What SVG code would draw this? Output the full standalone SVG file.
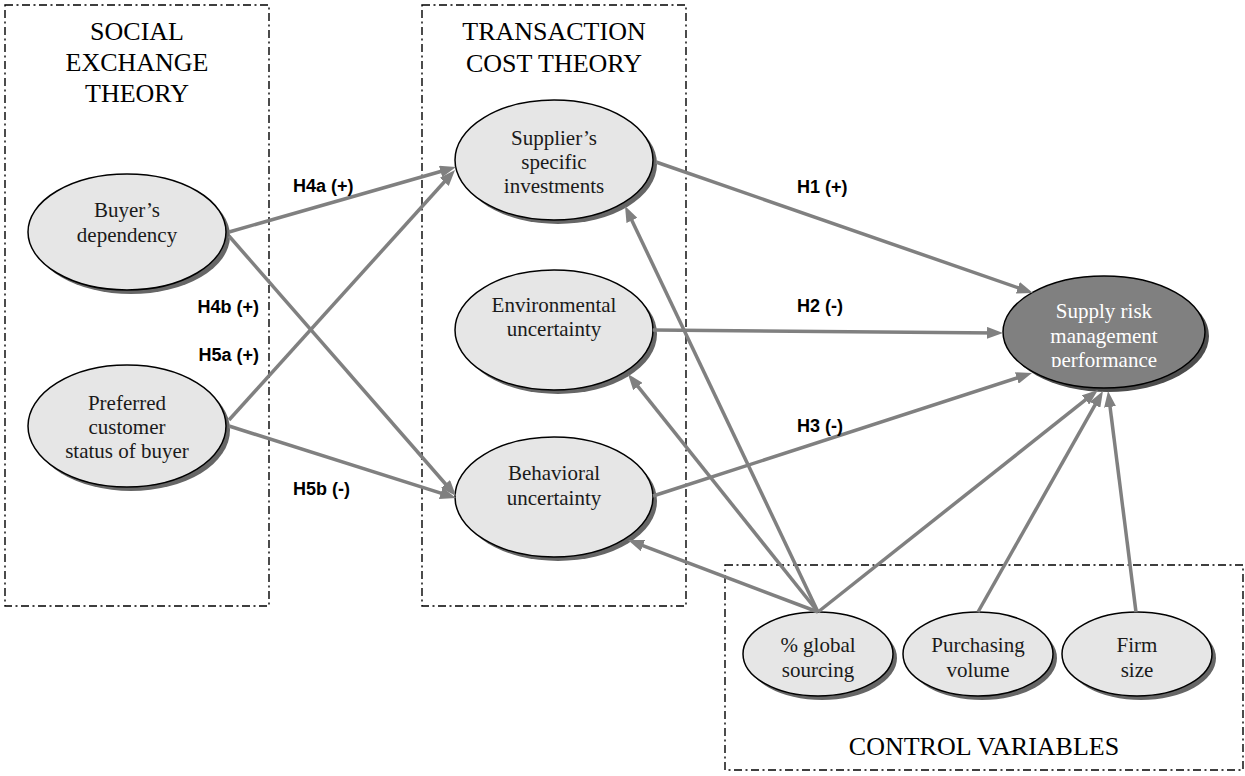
<svg xmlns="http://www.w3.org/2000/svg" width="1245" height="776" viewBox="0 0 1245 776">
<defs>
<style>
.box{fill:none;stroke:#000;stroke-width:1.4;stroke-dasharray:8 3.5 2 3.5}
.title{font-family:"Liberation Serif","Times New Roman",serif;font-size:26px;fill:#000;text-anchor:middle}
.nt{font-family:"Liberation Serif","Times New Roman",serif;font-size:21px;fill:#1a1a1a;text-anchor:middle}
.nw{font-family:"Liberation Serif","Times New Roman",serif;font-size:21px;fill:#fff;text-anchor:middle}
.lbl{font-family:"Liberation Sans",Arial,sans-serif;font-size:18px;font-weight:bold;fill:#000}
.el{fill:#e6e6e6;stroke:#000;stroke-width:1.5}
.sh{fill:#666}
.dk{fill:#808080;stroke:#000;stroke-width:1.5}
.dsh{fill:#4d4d4d}
.con line{stroke:#808080;stroke-width:3.5;fill:none;marker-end:url(#ah)}
</style>
<marker id="ah" viewBox="0 0 16 12" refX="10" refY="6" markerWidth="16" markerHeight="12" markerUnits="userSpaceOnUse" orient="auto">
<path d="M0,0 L16,6 L0,12 z" fill="#808080"/>
</marker>
<clipPath id="srmclip"><rect x="1000" y="290" width="210" height="77"/></clipPath>
</defs>
<rect width="1245" height="776" fill="#fff"/>

<g id="boxes">
<rect class="box" x="5" y="5" width="264" height="601"/>
<rect class="box" x="422" y="5" width="264" height="601"/>
<rect class="box" x="725" y="565" width="518" height="205"/>
</g>

<g id="titles">
<text class="title" x="137" y="40">SOCIAL</text>
<text class="title" x="137" y="71">EXCHANGE</text>
<text class="title" x="137" y="102">THEORY</text>
<text class="title" x="554" y="40">TRANSACTION</text>
<text class="title" x="554" y="72">COST THEORY</text>
<text class="title" x="984" y="755">CONTROL VARIABLES</text>
</g>

<g id="buyer">
<ellipse class="sh" cx="131" cy="236" rx="99" ry="58"/>
<ellipse class="el" cx="127" cy="232" rx="99" ry="58"/>
<text class="nt" x="127" y="217">Buyer’s</text>
<text class="nt" x="127" y="242">dependency</text>
</g>

<g id="preferred">
<ellipse class="sh" cx="131" cy="430" rx="99" ry="61"/>
<ellipse class="el" cx="127" cy="426" rx="99" ry="61"/>
<text class="nt" x="127" y="410">Preferred</text>
<text class="nt" x="127" y="434">customer</text>
<text class="nt" x="127" y="458">status of buyer</text>
</g>

<g id="supplier">
<ellipse class="sh" cx="558" cy="164" rx="99" ry="60"/>
<ellipse class="el" cx="554" cy="160" rx="99" ry="60"/>
<text class="nt" x="554" y="145">Supplier’s</text>
<text class="nt" x="554" y="169">specific</text>
<text class="nt" x="554" y="193">investments</text>
</g>

<g id="environmental">
<ellipse class="sh" cx="558" cy="334" rx="99" ry="60"/>
<ellipse class="el" cx="554" cy="330" rx="99" ry="60"/>
<text class="nt" x="554" y="312">Environmental</text>
<text class="nt" x="554" y="336">uncertainty</text>
</g>

<g id="behavioral">
<ellipse class="sh" cx="558" cy="501" rx="99" ry="60"/>
<ellipse class="el" cx="554" cy="497" rx="99" ry="60"/>
<text class="nt" x="554" y="480">Behavioral</text>
<text class="nt" x="554" y="505">uncertainty</text>
</g>

<g id="srm">
<ellipse class="dsh" cx="1108" cy="336" rx="101" ry="56"/>
<ellipse class="dk" cx="1104" cy="332" rx="101" ry="56"/>
<g clip-path="url(#srmclip)">
<text class="nw" x="1104" y="318">Supply risk</text>
<text class="nw" x="1104" y="343">management</text>
<text class="nw" x="1104" y="367">performance</text>
</g>
</g>

<g id="global">
<ellipse class="sh" cx="822" cy="658" rx="75" ry="42"/>
<ellipse class="el" cx="818" cy="654" rx="75" ry="42"/>
<text class="nt" x="818" y="652">% global</text>
<text class="nt" x="818" y="677">sourcing</text>
</g>

<g id="purchasing">
<ellipse class="sh" cx="982" cy="658" rx="75" ry="42"/>
<ellipse class="el" cx="978" cy="654" rx="75" ry="42"/>
<text class="nt" x="978" y="652">Purchasing</text>
<text class="nt" x="978" y="677">volume</text>
</g>

<g id="firm">
<ellipse class="sh" cx="1141" cy="658" rx="75" ry="42"/>
<ellipse class="el" cx="1137" cy="654" rx="75" ry="42"/>
<text class="nt" x="1137" y="652">Firm</text>
<text class="nt" x="1137" y="677">size</text>
</g>

<g id="connectors" class="con">
<line x1="229" y1="232" x2="450.2" y2="168.7"/>
<line x1="229" y1="236" x2="452.1" y2="491.5"/>
<line x1="229" y1="420" x2="451.0" y2="174.5"/>
<line x1="229" y1="426" x2="450.3" y2="496.2"/>
<line x1="656" y1="162" x2="1027.3" y2="291.0"/>
<line x1="653" y1="330" x2="997" y2="332.95"/>
<line x1="653" y1="496" x2="1026.3" y2="374.9"/>
<line x1="818" y1="612" x2="627.6" y2="211.4"/>
<line x1="818" y1="612" x2="631.7" y2="378.7"/>
<line x1="818" y1="612" x2="633.6" y2="542.1"/>
<line x1="818" y1="612" x2="1093.3" y2="393.7"/>
<line x1="978" y1="612" x2="1100.0" y2="396.2"/>
<line x1="1136" y1="612" x2="1108.8" y2="397.0"/>
</g>

<g id="labels">
<text class="lbl" x="293" y="192">H4a (+)</text>
<text class="lbl" x="259" y="313" text-anchor="end">H4b (+)</text>
<text class="lbl" x="259" y="361" text-anchor="end">H5a (+)</text>
<text class="lbl" x="293" y="495">H5b (-)</text>
<text class="lbl" x="797" y="193">H1 (+)</text>
<text class="lbl" x="797" y="312">H2 (-)</text>
<text class="lbl" x="797" y="432">H3 (-)</text>
</g>
</svg>
